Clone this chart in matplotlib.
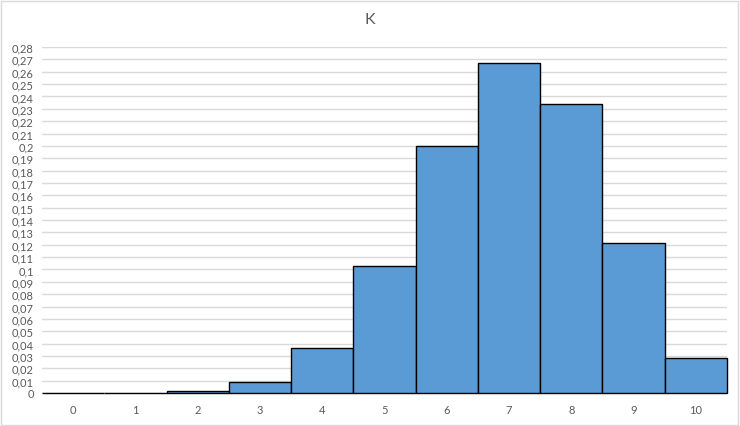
import matplotlib
matplotlib.use("Agg")
import matplotlib.pyplot as plt
from matplotlib.ticker import FuncFormatter, MultipleLocator
from matplotlib.patches import Rectangle

categories = ["0", "1", "2", "3", "4", "5", "6", "7", "8", "9", "10"]
values = [0.0000059, 0.000138, 0.00145, 0.009, 0.0368, 0.1029, 0.2001, 0.2668, 0.2335, 0.1211, 0.0282]
title = "K"

plt.rcParams['font.family'] = ['Lato', 'DejaVu Sans']

fig = plt.figure(figsize=(7.4, 4.27), dpi=100)
ax = fig.add_axes([42/740, 33/427, 685/740, 346/427])

x = list(range(len(categories)))
bars = ax.bar(x, values, width=1.0, color="#5B9BD5", edgecolor="black", linewidth=1.0, zorder=3)
for b in bars:
    b.set_clip_on(False)

ax.set_xlim(-0.5, len(categories) - 0.5)
ax.set_ylim(0, 0.28)
ax.yaxis.set_major_locator(MultipleLocator(0.01))

def fmt(v, pos):
    s = f"{v:.2f}".rstrip("0").rstrip(".")
    return s.replace(".", ",")

ax.yaxis.set_major_formatter(FuncFormatter(fmt))
ax.set_xticks(x)
ax.set_xticklabels(categories)
ax.grid(axis="y", color="#D9D9D9", linewidth=1.0, zorder=0)
for s in ax.spines.values():
    s.set_visible(False)
ax.tick_params(axis="both", length=0, labelsize=8, colors="#595959")
ax.tick_params(axis="x", pad=8)
ax.tick_params(axis="y", pad=6)

fig.text(370/740, 1 - 20/427, title, ha="center", va="center", fontsize=11.5, color="#595959")

fig.patches.append(Rectangle((1/740, 1/427), 737/740, 424/427, transform=fig.transFigure,
                             fill=False, edgecolor="#D9D9D9", linewidth=1.0))

fig.savefig("out.png", dpi=100)
